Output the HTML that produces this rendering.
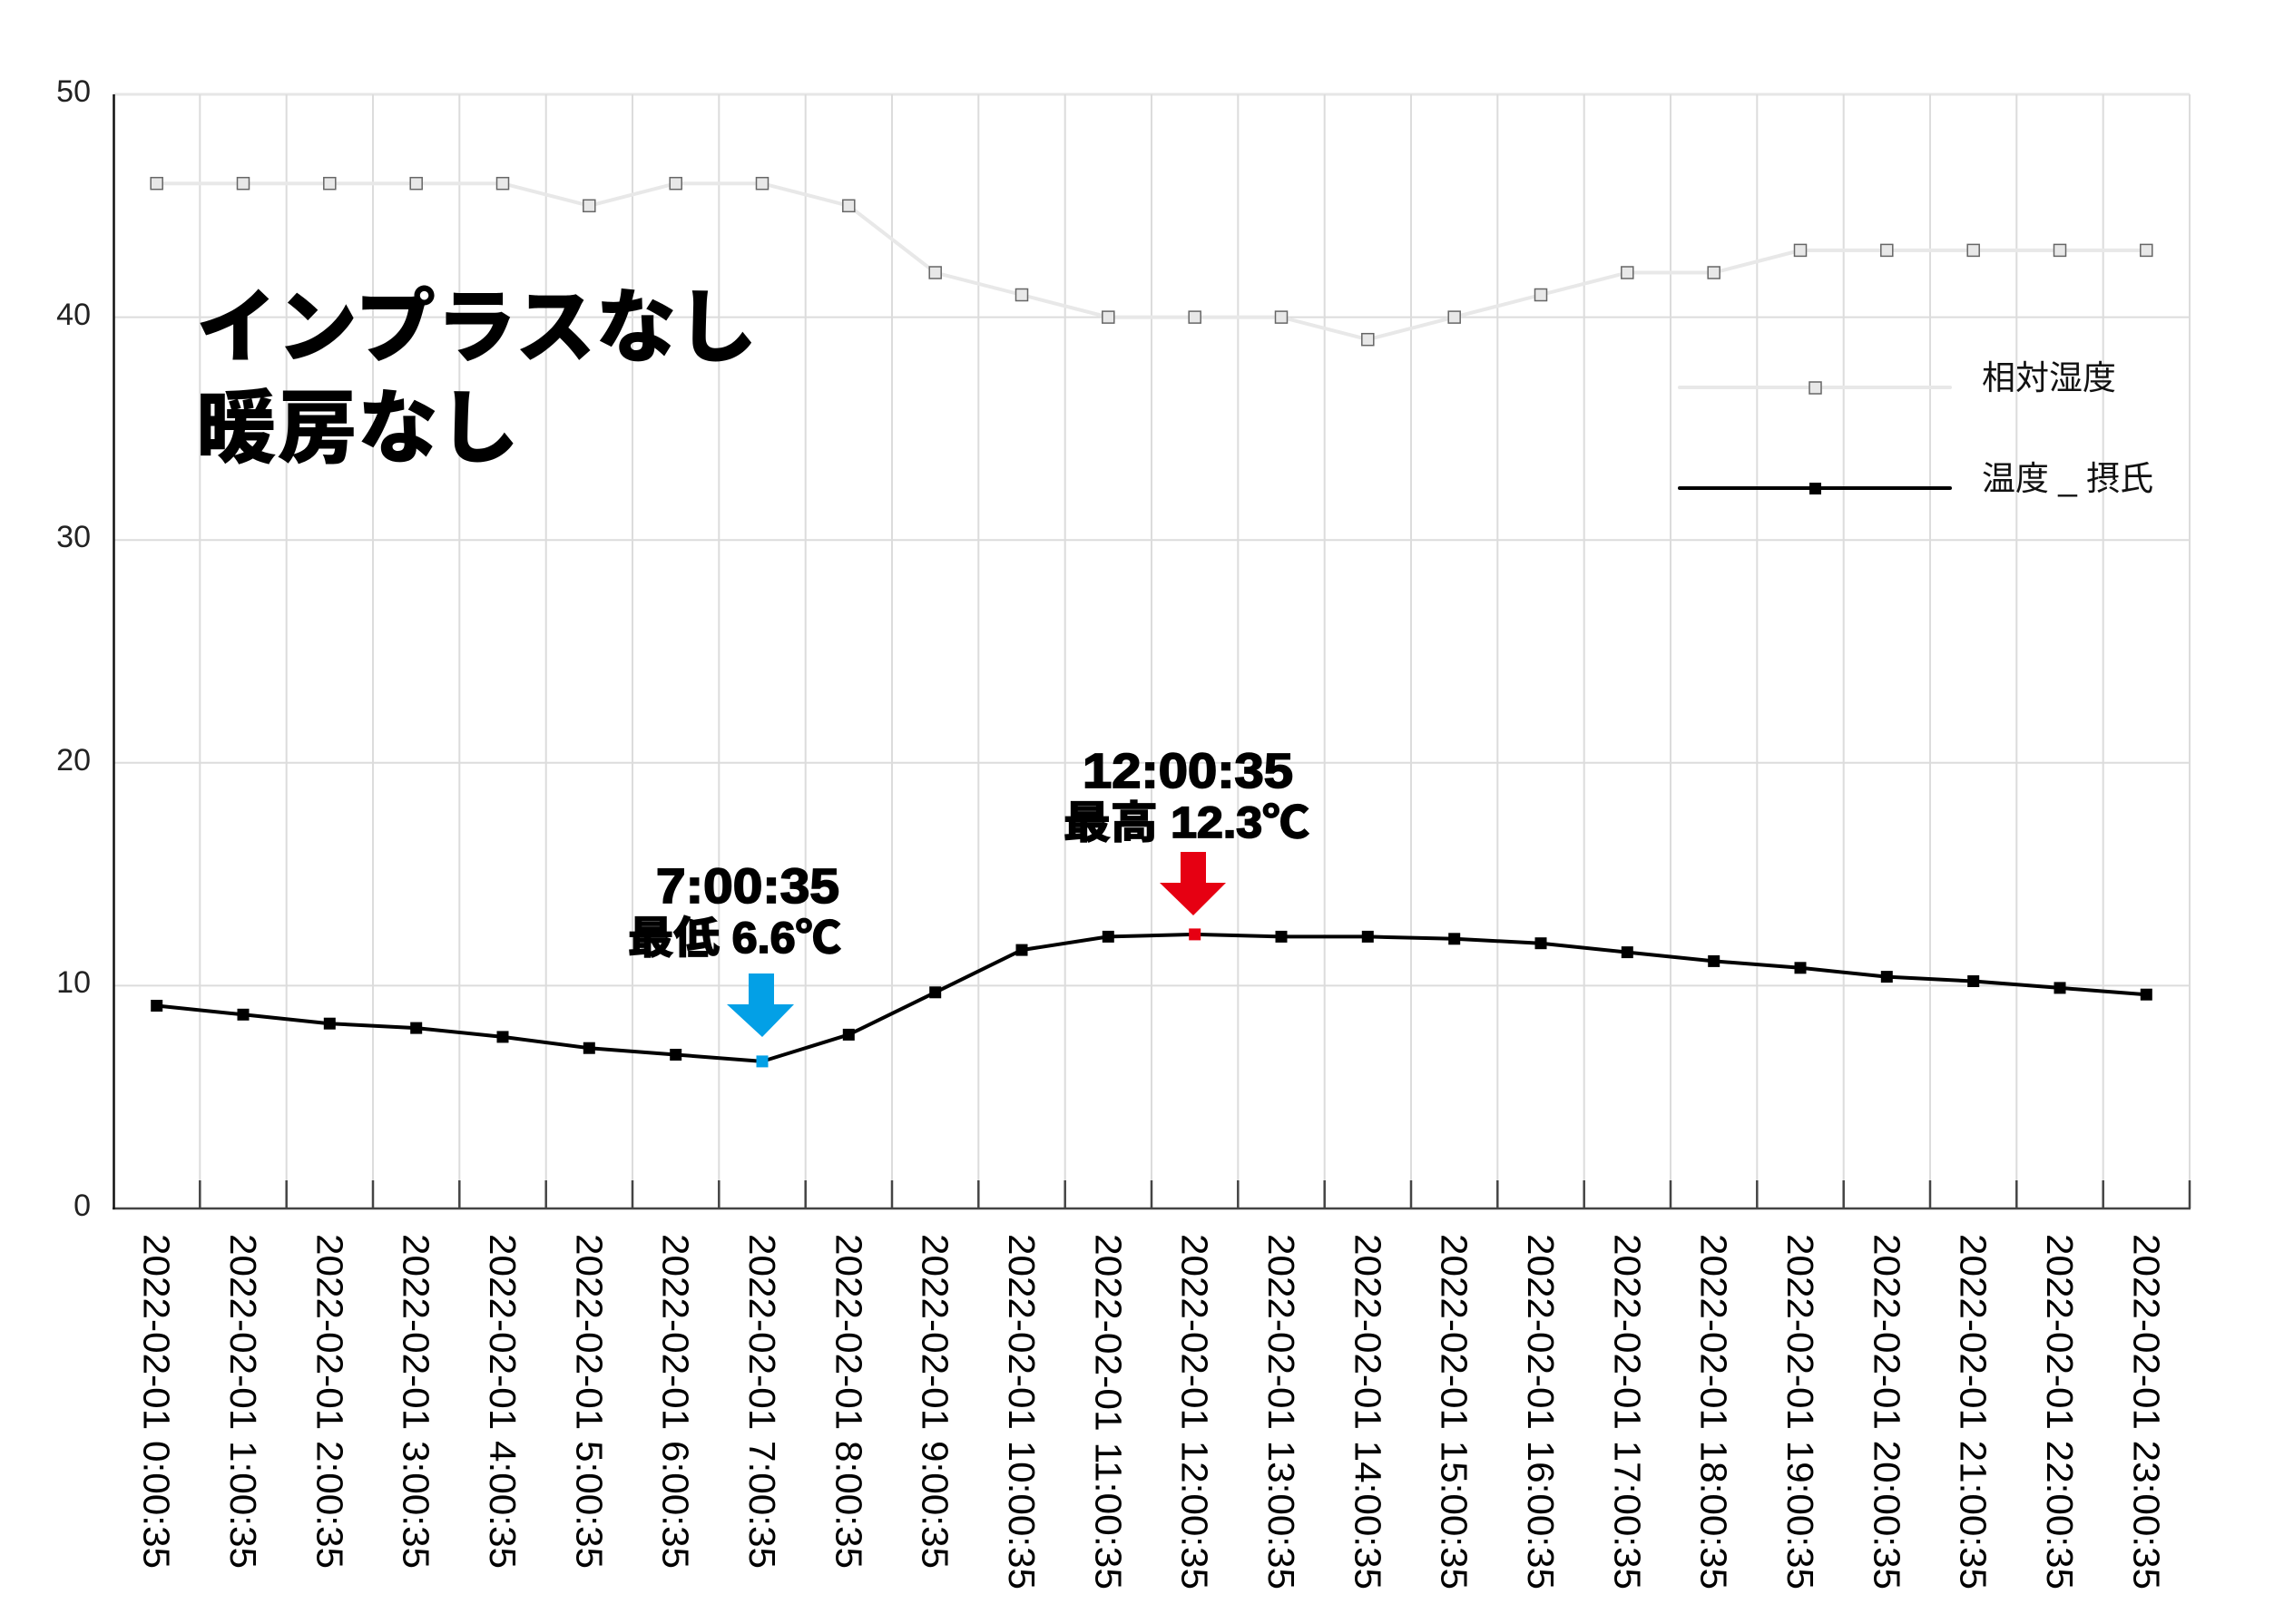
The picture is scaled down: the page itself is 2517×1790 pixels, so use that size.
<!DOCTYPE html>
<html><head><meta charset="utf-8"><style>
html,body{margin:0;padding:0;background:#fff;}
svg{display:block;}
</style></head><body>
<svg width="2517" height="1790" viewBox="0 0 2517 1790" xmlns="http://www.w3.org/2000/svg">
<rect width="2517" height="1790" fill="#fff"/>
<g stroke="#dcdcdc" stroke-width="2">
<line x1="125" y1="104" x2="2413" y2="104" stroke="#e6e6e6" stroke-width="3"/>
<line x1="125" y1="349.6" x2="2413" y2="349.6"/>
<line x1="125" y1="595.2" x2="2413" y2="595.2"/>
<line x1="125" y1="840.8" x2="2413" y2="840.8"/>
<line x1="125" y1="1086.4" x2="2413" y2="1086.4"/>
</g>
<g stroke="#dcdcdc" stroke-width="2">
<line x1="220.3" y1="104" x2="220.3" y2="1332"/><line x1="315.7" y1="104" x2="315.7" y2="1332"/><line x1="411" y1="104" x2="411" y2="1332"/><line x1="506.3" y1="104" x2="506.3" y2="1332"/><line x1="601.7" y1="104" x2="601.7" y2="1332"/><line x1="697" y1="104" x2="697" y2="1332"/><line x1="792.3" y1="104" x2="792.3" y2="1332"/><line x1="887.7" y1="104" x2="887.7" y2="1332"/><line x1="983" y1="104" x2="983" y2="1332"/><line x1="1078.3" y1="104" x2="1078.3" y2="1332"/><line x1="1173.7" y1="104" x2="1173.7" y2="1332"/><line x1="1269" y1="104" x2="1269" y2="1332"/><line x1="1364.3" y1="104" x2="1364.3" y2="1332"/><line x1="1459.7" y1="104" x2="1459.7" y2="1332"/><line x1="1555" y1="104" x2="1555" y2="1332"/><line x1="1650.3" y1="104" x2="1650.3" y2="1332"/><line x1="1745.7" y1="104" x2="1745.7" y2="1332"/><line x1="1841" y1="104" x2="1841" y2="1332"/><line x1="1936.3" y1="104" x2="1936.3" y2="1332"/><line x1="2031.7" y1="104" x2="2031.7" y2="1332"/><line x1="2127" y1="104" x2="2127" y2="1332"/><line x1="2222.3" y1="104" x2="2222.3" y2="1332"/><line x1="2317.7" y1="104" x2="2317.7" y2="1332"/><line x1="2413" y1="104" x2="2413" y2="1332"/>
</g>
<g stroke="#444" stroke-width="2.5">
<line x1="220.3" y1="1301" x2="220.3" y2="1332"/><line x1="315.7" y1="1301" x2="315.7" y2="1332"/><line x1="411" y1="1301" x2="411" y2="1332"/><line x1="506.3" y1="1301" x2="506.3" y2="1332"/><line x1="601.7" y1="1301" x2="601.7" y2="1332"/><line x1="697" y1="1301" x2="697" y2="1332"/><line x1="792.3" y1="1301" x2="792.3" y2="1332"/><line x1="887.7" y1="1301" x2="887.7" y2="1332"/><line x1="983" y1="1301" x2="983" y2="1332"/><line x1="1078.3" y1="1301" x2="1078.3" y2="1332"/><line x1="1173.7" y1="1301" x2="1173.7" y2="1332"/><line x1="1269" y1="1301" x2="1269" y2="1332"/><line x1="1364.3" y1="1301" x2="1364.3" y2="1332"/><line x1="1459.7" y1="1301" x2="1459.7" y2="1332"/><line x1="1555" y1="1301" x2="1555" y2="1332"/><line x1="1650.3" y1="1301" x2="1650.3" y2="1332"/><line x1="1745.7" y1="1301" x2="1745.7" y2="1332"/><line x1="1841" y1="1301" x2="1841" y2="1332"/><line x1="1936.3" y1="1301" x2="1936.3" y2="1332"/><line x1="2031.7" y1="1301" x2="2031.7" y2="1332"/><line x1="2127" y1="1301" x2="2127" y2="1332"/><line x1="2222.3" y1="1301" x2="2222.3" y2="1332"/><line x1="2317.7" y1="1301" x2="2317.7" y2="1332"/><line x1="2413" y1="1301" x2="2413" y2="1332"/>
<line x1="124" y1="1332" x2="2414" y2="1332"/>
</g>
<line x1="125.5" y1="104" x2="125.5" y2="1333" stroke="#111" stroke-width="2.5"/>
<g font-family="Liberation Sans, sans-serif" font-size="34" fill="#222" text-anchor="end">
<text x="100" y="112">50</text><text x="100" y="358">40</text><text x="100" y="603">30</text><text x="100" y="849">20</text><text x="100" y="1094">10</text><text x="100" y="1340">0</text>
</g>
<text font-family="Liberation Sans, Noto Sans CJK JP, sans-serif" font-weight="900" font-size="89" fill="#000"><tspan x="216" y="392">インプラスなし</tspan><tspan x="216" y="503">暖房なし</tspan></text>
<!-- humidity -->
<polyline fill="none" stroke="#e8e8e8" stroke-width="4" points="172.7,202.2 268,202.2 363.3,202.2 458.7,202.2 554,202.2 649.3,226.8 744.7,202.2 840,202.2 935.3,226.8 1030.7,300.5 1126,325 1221.3,349.6 1316.7,349.6 1412,349.6 1507.3,374.2 1602.7,349.6 1698,325 1793.3,300.5 1888.7,300.5 1984,275.9 2079.3,275.9 2174.7,275.9 2270,275.9 2365.3,275.9"/>
<g fill="#e8e8e8" stroke="#666" stroke-width="1.5">
<rect x="166.2" y="195.7" width="13" height="13"/><rect x="261.5" y="195.7" width="13" height="13"/><rect x="356.8" y="195.7" width="13" height="13"/><rect x="452.2" y="195.7" width="13" height="13"/><rect x="547.5" y="195.7" width="13" height="13"/><rect x="642.8" y="220.3" width="13" height="13"/><rect x="738.2" y="195.7" width="13" height="13"/><rect x="833.5" y="195.7" width="13" height="13"/><rect x="928.8" y="220.3" width="13" height="13"/><rect x="1024.2" y="294" width="13" height="13"/><rect x="1119.5" y="318.5" width="13" height="13"/><rect x="1214.8" y="343.1" width="13" height="13"/><rect x="1310.2" y="343.1" width="13" height="13"/><rect x="1405.5" y="343.1" width="13" height="13"/><rect x="1500.8" y="367.7" width="13" height="13"/><rect x="1596.2" y="343.1" width="13" height="13"/><rect x="1691.5" y="318.5" width="13" height="13"/><rect x="1786.8" y="294" width="13" height="13"/><rect x="1882.2" y="294" width="13" height="13"/><rect x="1977.5" y="269.4" width="13" height="13"/><rect x="2072.8" y="269.4" width="13" height="13"/><rect x="2168.2" y="269.4" width="13" height="13"/><rect x="2263.5" y="269.4" width="13" height="13"/><rect x="2358.8" y="269.4" width="13" height="13"/>
</g>
<!-- temperature -->
<polyline fill="none" stroke="#000" stroke-width="4" stroke-linejoin="round" points="172.7,1108.5 268,1118.3 363.3,1128.2 458.7,1133.1 554,1142.9 649.3,1155.2 744.7,1162.5 840,1169.9 935.3,1140.4 1030.7,1093.8 1126,1047.1 1221.3,1032.4 1316.7,1029.9 1412,1032.4 1507.3,1032.4 1602.7,1034.8 1698,1039.7 1793.3,1049.6 1888.7,1059.4 1984,1066.8 2079.3,1076.6 2174.7,1081.5 2270,1088.9 2365.3,1096.2"/>
<g fill="#000">
<rect x="166.2" y="1102" width="13" height="13"/><rect x="261.5" y="1111.8" width="13" height="13"/><rect x="356.8" y="1121.7" width="13" height="13"/><rect x="452.2" y="1126.6" width="13" height="13"/><rect x="547.5" y="1136.4" width="13" height="13"/><rect x="642.8" y="1148.7" width="13" height="13"/><rect x="738.2" y="1156" width="13" height="13"/><rect x="833.5" y="1163.4" width="13" height="13" fill="#03a0e6"/><rect x="928.8" y="1133.9" width="13" height="13"/><rect x="1024.2" y="1087.3" width="13" height="13"/><rect x="1119.5" y="1040.6" width="13" height="13"/><rect x="1214.8" y="1025.9" width="13" height="13"/><rect x="1310.2" y="1023.4" width="13" height="13" fill="#e60012"/><rect x="1405.5" y="1025.9" width="13" height="13"/><rect x="1500.8" y="1025.9" width="13" height="13"/><rect x="1596.2" y="1028.3" width="13" height="13"/><rect x="1691.5" y="1033.2" width="13" height="13"/><rect x="1786.8" y="1043.1" width="13" height="13"/><rect x="1882.2" y="1052.9" width="13" height="13"/><rect x="1977.5" y="1060.3" width="13" height="13"/><rect x="2072.8" y="1070.1" width="13" height="13"/><rect x="2168.2" y="1075" width="13" height="13"/><rect x="2263.5" y="1082.4" width="13" height="13"/><rect x="2358.8" y="1089.7" width="13" height="13"/>
</g>
<!-- arrows -->
<polygon fill="#03a0e6" points="825,1073 853,1073 853,1107 875,1107 840,1143 801,1107 825,1107"/>
<polygon fill="#e60012" points="1301,939 1329,939 1329,973 1351,973 1315,1009 1278,973 1301,973"/>
<g font-family="Liberation Sans, Noto Sans CJK JP, sans-serif" font-weight="bold" fill="#000" stroke="#000" stroke-width="1.8">
<text x="723" y="995" font-size="54" textLength="202" lengthAdjust="spacingAndGlyphs">7:00:35</text>
<text x="692" y="1050" font-size="48" textLength="235" lengthAdjust="spacingAndGlyphs">最低 6.6℃</text>
<text x="1193" y="868" font-size="54" textLength="232" lengthAdjust="spacingAndGlyphs">12:00:35</text>
<text x="1172" y="923" font-size="48" textLength="271" lengthAdjust="spacingAndGlyphs">最高 12.3℃</text>
</g>
<!-- legend -->
<line x1="1851" y1="427" x2="2149" y2="427" stroke="#e8e8e8" stroke-width="4" stroke-linecap="round"/>
<rect x="1994" y="421" width="13" height="13" fill="#e8e8e8" stroke="#666" stroke-width="1.5"/>
<line x1="1851" y1="538" x2="2149" y2="538" stroke="#000" stroke-width="4" stroke-linecap="round"/>
<rect x="1994" y="532" width="13" height="13" fill="#000"/>
<g font-family="Liberation Sans, Noto Sans CJK JP, sans-serif" font-size="37" fill="#111">
<text x="2184" y="429">相対湿度</text>
<text x="2184" y="540">温度 _ 摂氏</text>
</g>
<!-- x labels -->
<g font-family="Liberation Sans, sans-serif" font-size="41" fill="#000" dominant-baseline="central">
<text x="172.7" y="1360" transform="rotate(90 172.7 1360)" textLength="369" lengthAdjust="spacingAndGlyphs">2022-02-01 0:00:35</text>
<text x="268" y="1360" transform="rotate(90 268 1360)" textLength="369" lengthAdjust="spacingAndGlyphs">2022-02-01 1:00:35</text>
<text x="363.3" y="1360" transform="rotate(90 363.3 1360)" textLength="369" lengthAdjust="spacingAndGlyphs">2022-02-01 2:00:35</text>
<text x="458.7" y="1360" transform="rotate(90 458.7 1360)" textLength="369" lengthAdjust="spacingAndGlyphs">2022-02-01 3:00:35</text>
<text x="554" y="1360" transform="rotate(90 554 1360)" textLength="369" lengthAdjust="spacingAndGlyphs">2022-02-01 4:00:35</text>
<text x="649.3" y="1360" transform="rotate(90 649.3 1360)" textLength="369" lengthAdjust="spacingAndGlyphs">2022-02-01 5:00:35</text>
<text x="744.7" y="1360" transform="rotate(90 744.7 1360)" textLength="369" lengthAdjust="spacingAndGlyphs">2022-02-01 6:00:35</text>
<text x="840" y="1360" transform="rotate(90 840 1360)" textLength="369" lengthAdjust="spacingAndGlyphs">2022-02-01 7:00:35</text>
<text x="935.3" y="1360" transform="rotate(90 935.3 1360)" textLength="369" lengthAdjust="spacingAndGlyphs">2022-02-01 8:00:35</text>
<text x="1030.7" y="1360" transform="rotate(90 1030.7 1360)" textLength="369" lengthAdjust="spacingAndGlyphs">2022-02-01 9:00:35</text>
<text x="1126" y="1360" transform="rotate(90 1126 1360)" textLength="392" lengthAdjust="spacingAndGlyphs">2022-02-01 10:00:35</text>
<text x="1221.3" y="1360" transform="rotate(90 1221.3 1360)" textLength="392" lengthAdjust="spacingAndGlyphs">2022-02-01 11:00:35</text>
<text x="1316.7" y="1360" transform="rotate(90 1316.7 1360)" textLength="392" lengthAdjust="spacingAndGlyphs">2022-02-01 12:00:35</text>
<text x="1412" y="1360" transform="rotate(90 1412 1360)" textLength="392" lengthAdjust="spacingAndGlyphs">2022-02-01 13:00:35</text>
<text x="1507.3" y="1360" transform="rotate(90 1507.3 1360)" textLength="392" lengthAdjust="spacingAndGlyphs">2022-02-01 14:00:35</text>
<text x="1602.7" y="1360" transform="rotate(90 1602.7 1360)" textLength="392" lengthAdjust="spacingAndGlyphs">2022-02-01 15:00:35</text>
<text x="1698" y="1360" transform="rotate(90 1698 1360)" textLength="392" lengthAdjust="spacingAndGlyphs">2022-02-01 16:00:35</text>
<text x="1793.3" y="1360" transform="rotate(90 1793.3 1360)" textLength="392" lengthAdjust="spacingAndGlyphs">2022-02-01 17:00:35</text>
<text x="1888.7" y="1360" transform="rotate(90 1888.7 1360)" textLength="392" lengthAdjust="spacingAndGlyphs">2022-02-01 18:00:35</text>
<text x="1984" y="1360" transform="rotate(90 1984 1360)" textLength="392" lengthAdjust="spacingAndGlyphs">2022-02-01 19:00:35</text>
<text x="2079.3" y="1360" transform="rotate(90 2079.3 1360)" textLength="392" lengthAdjust="spacingAndGlyphs">2022-02-01 20:00:35</text>
<text x="2174.7" y="1360" transform="rotate(90 2174.7 1360)" textLength="392" lengthAdjust="spacingAndGlyphs">2022-02-01 21:00:35</text>
<text x="2270" y="1360" transform="rotate(90 2270 1360)" textLength="392" lengthAdjust="spacingAndGlyphs">2022-02-01 22:00:35</text>
<text x="2365.3" y="1360" transform="rotate(90 2365.3 1360)" textLength="392" lengthAdjust="spacingAndGlyphs">2022-02-01 23:00:35</text>
</g>
</svg>
</body></html>
